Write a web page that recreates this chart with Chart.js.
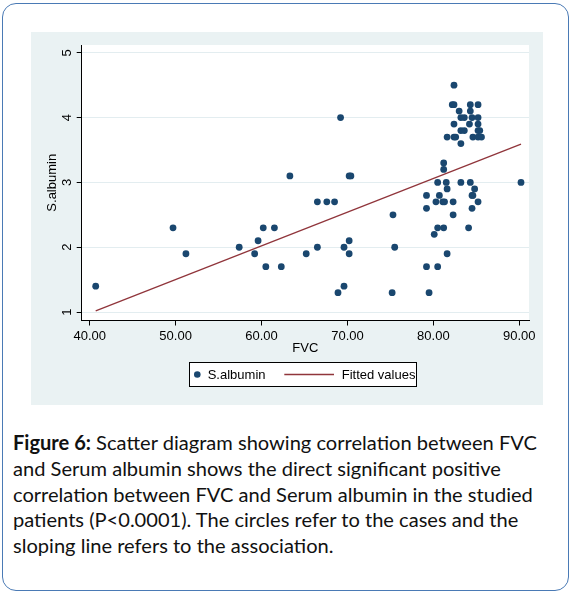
<!DOCTYPE html>
<html>
<head>
<meta charset="utf-8">
<script src="https://cdn.jsdelivr.net/npm/chart.js@4.4.0/dist/chart.umd.min.js"></script>
<style>
html, body { margin: 0; padding: 0; background: #fff; width: 571px; height: 595px; overflow: hidden; }
#card { position: absolute; left: 2px; top: 3px; width: 565px; height: 586px; border: 1px solid #4a7ab5; border-radius: 14px; }
#wrap { position: absolute; left: 31px; top: 32px; width: 512px; height: 373px; }
#caption { position: absolute; left: 13px; top: 430px; font-family: Lato, "Open Sans", sans-serif; font-size: 19px; line-height: 25.8px; color: #111; white-space: nowrap; }
#caption b { font-weight: bold; }
</style>
</head>
<body>
<div id="card"></div>
<div id="wrap"><canvas id="chartScatter" width="512" height="373"></canvas></div>
<div id="caption">
  <div id="cap1"><b>Figure 6:</b> Scatter diagram showing correlation between FVC</div>
  <div>and Serum albumin shows the direct significant positive</div>
  <div>correlation between FVC and Serum albumin in the studied</div>
  <div>patients (P&lt;0.0001). The circles refer to the cases and the</div>
  <div>sloping line refers to the association.</div>
</div>
<script>
// dati
const fvc = [40.7, 49.7, 51.2, 57.4, 59.2, 59.6, 60.2, 60.5, 61.5, 62.3,
    63.3, 65.2, 66.5, 66.5, 67.6, 68.5, 68.9, 69.2, 69.6, 69.6,
    70.2, 70.2, 70.2, 70.4, 75.2, 75.3, 75.5, 79.2, 79.5, 79.2,
    79.2, 80.1, 80.3, 80.5, 80.5, 80.5, 80.7, 81.1, 81.3, 81.2,
    81.2, 81.2, 81.5, 81.6, 81.6, 81.6, 82.2, 82.4, 82.3, 82.3,
    82.4, 82.4, 82.4, 82.6, 83.0, 83.2, 83.2, 83.2, 83.2, 83.6,
    83.6, 84.1, 84.3, 84.2, 84.3, 84.3, 84.5, 84.5, 84.5, 84.6,
    84.6, 84.8, 85.2, 85.2, 85.2, 85.2, 85.2, 85.4, 85.2, 85.6,
    90.2];
const albumin = [1.4, 2.3, 1.9, 2.0, 1.9, 2.1, 2.3, 1.7, 2.3, 1.7,
    3.1, 1.9, 2.7, 2.0, 2.7, 2.7, 1.3, 4.0, 1.4, 2.0,
    2.1, 1.9, 3.1, 3.1, 1.3, 2.5, 2.0, 1.7, 1.3, 2.6,
    2.8, 2.2, 2.7, 3.0, 2.3, 1.7, 2.8, 2.7, 2.7, 2.3,
    3.3, 3.2, 3.0, 2.9, 1.9, 3.7, 4.2, 4.2, 2.5, 2.7,
    4.5, 3.9, 3.7, 3.7, 4.1, 4.0, 3.6, 3.8, 3.0, 4.0,
    3.8, 2.3, 3.0, 3.9, 4.2, 4.1, 4.0, 2.6, 2.8, 2.8,
    3.7, 2.9, 4.2, 3.9, 4.0, 2.7, 3.8, 3.8, 3.7, 3.7,
    3.0];
const fitX = [40.7, 90.2];
const fitY = [1.02, 3.59];
const xTicks = [40, 50, 60, 70, 80, 90];
const yTicks = [1, 2, 3, 4, 5];

const navy = '#1a476f';
const maroon = '#90353b';
const axisFont = { family: 'Liberation Sans', size: 13 };

// sfondo pannello + area bianca
const bgPlugin = {
    id: 'bg',
    beforeDraw(chart) {
        const { ctx, chartArea: a } = chart;
        ctx.save();
        ctx.fillStyle = '#eaf2f3';
        ctx.fillRect(0, 0, chart.width, chart.height);
        ctx.fillStyle = '#fff';
        ctx.fillRect(a.left, a.top, a.right - a.left, a.bottom - a.top);
        ctx.restore();
    }
};

// etichette asse y ruotate e legenda con bordo
const extrasPlugin = {
    id: 'extras',
    afterDraw(chart) {
        const ctx = chart.ctx;
        const ys = chart.scales.y;
        ctx.save();
        ctx.fillStyle = '#000';
        ctx.font = '13px "Liberation Sans"';
        ctx.textAlign = 'center';
        ctx.textBaseline = 'middle';
        ys.ticks.forEach(t => {
            ctx.save();
            ctx.translate(36, ys.getPixelForValue(t.value));
            ctx.rotate(-Math.PI / 2);
            ctx.fillText(String(t.value), 0, 0);
            ctx.restore();
        });

        // legenda
        const sc = chart.data.datasets[1];
        const ln = chart.data.datasets[0];
        ctx.fillStyle = '#fff';
        ctx.fillRect(158.5, 330.5, 227, 24);
        ctx.strokeStyle = '#000';
        ctx.lineWidth = 1;
        ctx.strokeRect(158.5, 330.5, 227, 24);
        ctx.fillStyle = sc.backgroundColor;
        ctx.beginPath();
        ctx.arc(166.3, 342.5, 3.3, 0, Math.PI * 2);
        ctx.fill();
        ctx.strokeStyle = ln.borderColor;
        ctx.lineWidth = 1.3;
        ctx.beginPath();
        ctx.moveTo(253.3, 342.5);
        ctx.lineTo(303, 342.5);
        ctx.stroke();
        ctx.fillStyle = '#000';
        ctx.textAlign = 'left';
        ctx.fillText(sc.label, 176.7, 343);
        ctx.fillText(ln.label, 310.7, 343);
        ctx.restore();
    }
};

let ctx = document.getElementById('chartScatter').getContext('2d');

const dataScatter = {
    datasets: [{
        type: 'line',
        label: 'Fitted values',
        data: fitX.map((x, i) => ({ x: x, y: fitY[i] })),
        borderColor: maroon,
        borderWidth: 1.3,
        pointRadius: 0,
        fill: false,
        order: 0
    }, {
        type: 'scatter',
        label: 'S.albumin',
        data: fvc.map((x, i) => ({ x: x, y: albumin[i] })),
        backgroundColor: navy,
        borderColor: navy,
        borderWidth: 0,
        pointRadius: 3.4,
        order: 1
    }]
};

const configScatter = {
    type: 'scatter',
    data: dataScatter,
    options: {
        responsive: false,
        animation: false,
        devicePixelRatio: 1,
        layout: { padding: { left: 0, top: 13, right: 14, bottom: 0 } },
        plugins: {
            legend: { display: false },
            tooltip: { enabled: false }
        },
        scales: {
            x: {
                type: 'linear',
                position: 'bottom',
                min: 39.07,
                max: 91.13,
                afterBuildTicks: s => { s.ticks = xTicks.map(v => ({ value: v })); },
                afterFit: s => { s.height = 84.5; },
                border: { color: '#000', width: 1 },
                grid: { drawOnChartArea: false, tickLength: 5, tickColor: '#000', color: '#000' },
                ticks: {
                    color: '#000',
                    font: axisFont,
                    padding: 3,
                    maxRotation: 0,
                    minRotation: 0,
                    callback: v => Number(v).toFixed(2)
                },
                title: {
                    display: true,
                    text: 'FVC',
                    color: '#000',
                    font: axisFont,
                    padding: { top: 0, bottom: 49 }
                }
            },
            y: {
                type: 'linear',
                position: 'left',
                min: 0.87,
                max: 5.12,
                afterBuildTicks: s => { s.ticks = yTicks.map(v => ({ value: v })); },
                afterFit: s => { s.width = 50.7; },
                border: { color: '#000', width: 1 },
                grid: { color: '#e3edf0', tickLength: 5, tickColor: '#000', lineWidth: 1 },
                ticks: { display: false },
                title: {
                    display: true,
                    text: 'S.albumin',
                    color: '#000',
                    font: axisFont,
                    padding: { top: 14, bottom: 0 }
                }
            }
        }
    },
    plugins: [bgPlugin, extrasPlugin]
};

const chartScatter = new Chart(ctx, configScatter);

// adatto la didascalia alla larghezza originale
const cap = document.getElementById('caption');
const w1 = document.getElementById('cap1').getBoundingClientRect().width;
const fs = 19 * 524 / w1;
cap.style.fontSize = fs.toFixed(2) + 'px';
</script>
</body>
</html>
